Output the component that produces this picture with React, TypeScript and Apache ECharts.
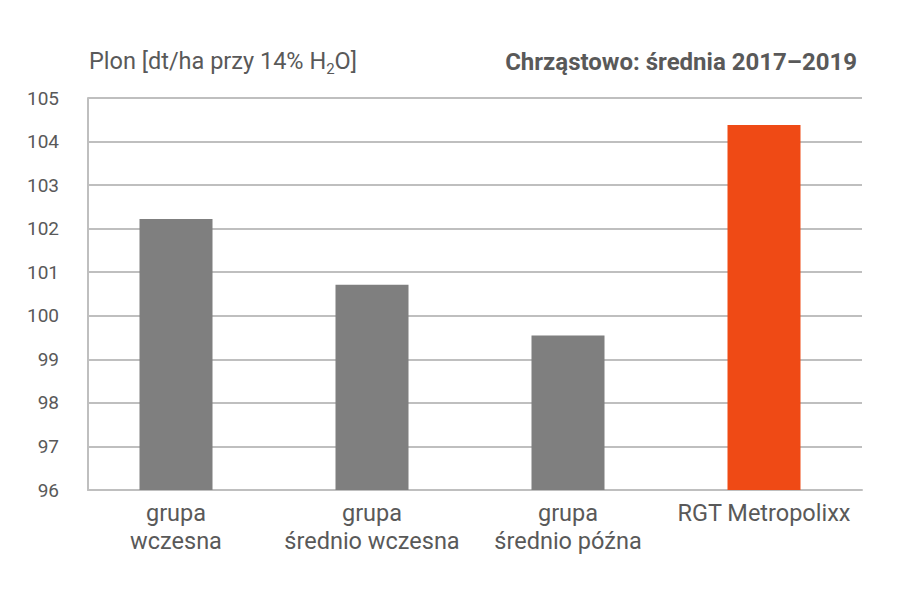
import * as echarts from "echarts";
import { useEffect, useRef } from "react";

const categories = ["grupa\nwczesna", "grupa\nśrednio wczesna", "grupa\nśrednio późna", "RGT Metropolixx"];
const values = [102.22, 100.71, 99.55, 104.38];
const barColors = ["#7f7f7f", "#7f7f7f", "#7f7f7f", "#ef4a15"];
const yMin = 96;
const yMax = 105;

export default function App() {
  const ref = useRef<HTMLDivElement | null>(null);

  useEffect(() => {
    if (!ref.current) {
      return;
    }

    const chart = echarts.init(ref.current, null, { renderer: "svg" });
    const text = "#595959";
    const grid = "#bfbfbf";
    chart.setOption({
      animation: false,
      backgroundColor: "#ffffff",
      textStyle: { fontFamily: "Roboto" },
      title: [
        {
          text: "Plon [dt/ha przy 14% H{sub|2}O]",
          left: 84,
          top: 40,
          textStyle: {
            color: text,
            fontSize: 23.5,
            fontWeight: "normal",
            fontFamily: "Roboto",
            rich: {
              sub: { fontSize: 15, color: text, fontFamily: "Roboto", padding: [16, 0, 0, 0] },
            },
          },
        },
        {
          text: "Chrząstowo: średnia 2017–2019",
          right: 39,
          top: 45,
          textStyle: { color: text, fontSize: 24, fontWeight: "bold", fontFamily: "Roboto" },
        },
      ],
      grid: [
        { left: 88, right: 39, top: 98, bottom: 111 },
        { left: 78, right: 39, top: 98, bottom: 111 },
      ],
      xAxis: [
        {
          gridIndex: 0,
          type: "category",
          data: categories,
          axisLine: { lineStyle: { color: grid, width: 2 } },
          axisTick: { show: false },
          axisLabel: { show: false },
        },
        {
          gridIndex: 1,
          type: "category",
          data: categories,
          axisLine: { show: false },
          axisTick: { show: false },
          axisLabel: {
            interval: 0,
            color: text,
            fontSize: 23.5,
            lineHeight: 28,
            margin: 9,
            fontFamily: "Roboto",
          },
        },
      ],
      yAxis: [
        {
          gridIndex: 0,
          type: "value",
          min: yMin,
          max: yMax,
          interval: 1,
          axisLine: { show: true, lineStyle: { color: grid, width: 2 } },
          axisTick: { show: false },
          axisLabel: { color: text, fontSize: 19, margin: 29, fontFamily: "Roboto" },
          splitLine: { lineStyle: { color: grid, width: 2 } },
        },
        {
          gridIndex: 1,
          type: "value",
          min: yMin,
          max: yMax,
          show: false,
        },
      ],
      series: [
        {
          type: "bar",
          xAxisIndex: 1,
          yAxisIndex: 1,
          barWidth: 73,
          data: values.map((v, i) => ({ value: v, itemStyle: { color: barColors[i] } })),
        },
      ],
    });

    const resize = () => chart.resize();
    window.addEventListener("resize", resize);

    return () => {
      window.removeEventListener("resize", resize);
      chart.dispose();
    };
  }, []);

  return <div ref={ref} style={{ width: 901, height: 601, margin: -8 }} />;
}
